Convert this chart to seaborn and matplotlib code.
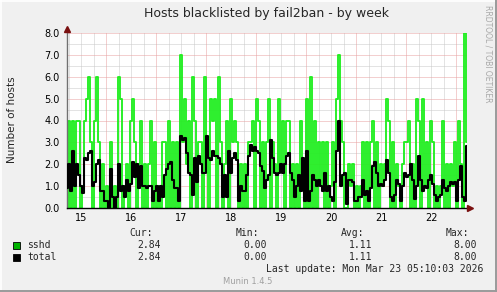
import numpy as np
import pandas as pd
import matplotlib
matplotlib.use("Agg")
import matplotlib.pyplot as plt
import seaborn as sns
from matplotlib.ticker import FormatStrFormatter
from matplotlib.lines import Line2D

# ---------------- data ----------------
title = "Hosts blacklisted by fail2ban - by week"
ylabel = "Number of hosts"
day_labels = ["15", "16", "17", "18", "19", "20", "21", "22"]
day_label_pos = [15.5, 16.5, 17.5, 18.5, 19.5, 20.5, 21.5, 22.5]
x_start = 15.215   # Mar 15 05:10
x_step = 0.04      # days per sample

sshd = [0, 4, 0, 4, 0, 4, 4, 0, 1, 4,
        5, 6, 3, 0, 4, 6, 3, 0, 2, 0,
        1, 0, 3, 0, 1, 0, 6, 5, 0, 1,
        2, 0, 4, 5, 3, 0, 2, 4, 0, 2,
        0, 2, 4, 0, 3, 0, 1, 0, 3, 3,
        0, 4, 0, 3, 0, 3, 0, 7, 3, 5,
        2, 4, 0, 6, 4, 0, 3, 3, 0, 6,
        3, 0, 5, 4, 5, 0, 6, 3, 0, 2,
        4, 0, 5, 3, 4, 3, 0, 2, 0, 2,
        0, 3, 3, 4, 0, 5, 4, 0, 3, 0,
        3, 5, 0, 3, 2, 0, 5, 2, 4, 0,
        4, 4, 0, 2, 0, 2, 0, 4, 2, 0,
        5, 0, 6, 0, 4, 0, 3, 1, 3, 0,
        3, 0, 1, 3, 0, 5, 7, 4, 3, 0,
        0, 2, 1, 2, 0, 1, 0, 1, 3, 0,
        3, 0, 3, 4, 0, 3, 0, 2, 1, 2,
        5, 4, 0, 3, 0, 2, 1, 0, 2, 3,
        3, 4, 0, 2, 0, 5, 4, 0, 5, 1,
        3, 0, 4, 3, 0, 1, 0, 1, 4, 0,
        2, 0, 2, 1, 3, 0, 4, 2, 0, 8,
        3]

total = [0.9, 2.0, 0.8, 2.6, 1.0, 2.0, 1.5, 1.0, 0.7, 2.3,
         2.2, 2.5, 2.6, 1.0, 1.2, 2.0, 2.2, 0.8, 0.8, 0.3,
         0.3, 0.0, 1.8, 0.5, 0.0, 0.5, 2.0, 0.8, 1.0, 0.5,
         1.3, 0.8, 1.1, 2.1, 1.4, 2.0, 0.9, 1.9, 1.0, 1.0,
         0.9, 1.0, 1.0, 0.3, 0.8, 1.0, 0.3, 1.0, 0.5, 1.5,
         1.8, 2.0, 2.1, 1.3, 0.9, 0.9, 0.3, 3.3, 3.1, 3.2,
         2.5, 1.6, 1.5, 0.6, 2.3, 1.2, 2.4, 2.0, 1.6, 1.6,
         3.3, 2.3, 2.2, 2.6, 2.4, 2.4, 2.3, 2.0, 0.5, 1.5,
         0.5, 2.6, 1.6, 2.3, 2.5, 2.2, 0.3, 1.0, 0.8, 0.8,
         1.5, 2.4, 2.9, 2.6, 2.8, 2.6, 2.5, 1.9, 1.7, 0.9,
         1.3, 1.5, 3.1, 2.3, 1.6, 1.5, 1.6, 2.0, 1.6, 2.0,
         2.4, 2.5, 1.6, 1.3, 0.5, 1.0, 1.5, 0.8, 2.3, 0.3,
         2.6, 0.3, 0.8, 1.5, 1.3, 1.0, 1.3, 1.0, 0.8, 1.6,
         0.8, 1.0, 0.5, 0.3, 1.2, 2.6, 4.0, 1.0, 1.5, 1.6,
         0.2, 1.3, 1.3, 1.2, 0.3, 0.3, 0.5, 0.5, 1.3, 0.6,
         0.8, 0.3, 0.9, 1.9, 2.1, 1.6, 1.0, 1.1, 1.0, 1.3,
         2.2, 1.6, 0.5, 0.3, 0.6, 1.3, 1.1, 0.3, 1.0, 1.6,
         1.4, 1.5, 2.0, 1.3, 0.4, 1.0, 2.4, 1.3, 0.8, 1.0,
         0.9, 1.3, 1.5, 1.1, 0.6, 0.3, 0.5, 0.6, 1.3, 0.9,
         0.8, 1.0, 1.2, 1.1, 1.2, 0.3, 1.3, 1.9, 0.5, 0.3,
         2.84]

legend_names = ["sshd", "total"]
legend_cur = ["2.84", "2.84"]
legend_min = ["0.00", "0.00"]
legend_avg = ["1.11", "1.11"]
legend_max = ["8.00", "8.00"]
last_update = "Last update: Mon Mar 23 05:10:03 2026"
version = "Munin 1.4.5"
watermark = "RRDTOOL / TOBI OETIKER"

# ---------------- figure ----------------
W, H = 497, 292
sns.set_theme(style="white")
plt.rcParams["font.family"] = ["DejaVu Sans"]

BG = "#F0F0F0"
fig = plt.figure(figsize=(W / 100, H / 100), dpi=100, facecolor=BG)
L, R, T, B = 67, 467, 33, 208
ax = fig.add_axes([L / W, 1 - B / H, (R - L) / W, (B - T) / H])
ax.set_facecolor("white")

df = pd.DataFrame({
    "t": x_start + x_step * np.arange(len(sshd)),
    "sshd": sshd,
    "total": total,
})

xmin, xmax = x_start, x_start + x_step * (len(sshd) - 1)
ax.set_xlim(xmin, xmax)
ax.set_ylim(0, 8)

# grid
dots = (0, (1, 1))
lw_grid = 0.72
for q in np.arange(np.ceil(xmin * 4) / 4, xmax, 0.25):
    if abs(q - round(q)) < 1e-6:
        continue
    ax.axvline(q, color="#C8C8C8", lw=lw_grid, ls=dots, zorder=0.5)
for yv in np.arange(0.5, 8.01, 1.0):
    ax.axhline(yv, color="#C8C8C8", lw=lw_grid, ls=dots, zorder=0.5)
for d in range(16, 24):
    ax.axvline(d, color="#E8A0A0", lw=lw_grid, ls=dots, zorder=0.6)
for yv in range(1, 9):
    ax.axhline(yv, color="#E8A0A0", lw=lw_grid, ls=dots, zorder=0.6)

sns.lineplot(data=df, x="t", y="sshd", ax=ax, color="#22EE22", lw=1.35,
             drawstyle="steps-mid", estimator=None, legend=False, zorder=2)
sns.lineplot(data=df, x="t", y="total", ax=ax, color="#000000", lw=1.5,
             drawstyle="steps-mid", estimator=None, legend=False, zorder=3)

ax.set_xlabel("")
ax.set_ylabel("")

# axes styling
for s in ["top", "right"]:
    ax.spines[s].set_visible(False)
ax.spines["left"].set_color("#707070")
ax.spines["left"].set_linewidth(1.0)
ax.spines["bottom"].set_color("#000000")
ax.spines["bottom"].set_linewidth(1.0)

ax.set_yticks(range(0, 9))
ax.yaxis.set_major_formatter(FormatStrFormatter("%.1f"))
ax.tick_params(axis="y", length=0, pad=5, labelsize=7, labelcolor="black")

ax.set_xticks(range(16, 24))
ax.set_xticklabels([])
ax.tick_params(axis="x", which="major", length=2.5, width=0.8, color="#D05050",
               direction="out")
ax.set_xticks(day_label_pos, minor=True)
ax.set_xticklabels(day_labels, minor=True)
ax.tick_params(axis="x", which="minor", length=0, pad=3.5, labelsize=7,
               labelcolor="black")

# arrows
ax.plot([0], [1.025], marker="^", ms=4, color="#7A1010", transform=ax.transAxes,
        clip_on=False, zorder=5)
ax.plot([1.008], [0], marker=">", ms=4, color="#7A1010", transform=ax.transAxes,
        clip_on=False, zorder=5)

# titles
fig.text(267 / W, 1 - 14 / H, title, ha="center", va="center", fontsize=9)
fig.text(12 / W, 1 - 120 / H, ylabel, ha="center", va="center", rotation=90,
         fontsize=7.5)
fig.text(488 / W, 1 - 5 / H, watermark, ha="center", va="top", rotation=270,
         fontsize=5.5, color="#A8A8A8")

# legend block
mono = "DejaVu Sans Mono"
fs = 7
hy = 1 - 233 / H
fig.text(153 / W, hy, "Cur:", ha="right", va="center", family=mono, fontsize=fs)
fig.text(259 / W, hy, "Min:", ha="right", va="center", family=mono, fontsize=fs)
fig.text(364 / W, hy, "Avg:", ha="right", va="center", family=mono, fontsize=fs)
fig.text(469 / W, hy, "Max:", ha="right", va="center", family=mono, fontsize=fs)

box_colors = ["#00B400", "#000000"]
for k, (nm, c, mn, av, mx) in enumerate(zip(legend_names, legend_cur, legend_min,
                                             legend_avg, legend_max)):
    yc = 245 + 12 * k
    yy = 1 - yc / H
    fig.patches.append(plt.Rectangle((13 / W, 1 - (yc + 3.5) / H), 7 / W, 7 / H,
                                     transform=fig.transFigure, facecolor=box_colors[k],
                                     edgecolor="black", lw=0.6))
    fig.text(27 / W, yy, nm, ha="left", va="center", family=mono, fontsize=fs)
    fig.text(161 / W, yy, c, ha="right", va="center", family=mono, fontsize=fs)
    fig.text(267 / W, yy, mn, ha="right", va="center", family=mono, fontsize=fs)
    fig.text(372 / W, yy, av, ha="right", va="center", family=mono, fontsize=fs)
    fig.text(477 / W, yy, mx, ha="right", va="center", family=mono, fontsize=fs)

fig.text(483 / W, 1 - 269 / H, last_update, ha="right", va="center", family=mono,
         fontsize=fs)
fig.text(248 / W, 1 - 281 / H, version, ha="center", va="center", fontsize=6,
         color="#A0A0A0")

# frame
fig.add_artist(Line2D([0, 1], [1 - 0.5 / H, 1 - 0.5 / H], transform=fig.transFigure,
                      color="#FFFFFF", lw=1.2))
fig.add_artist(Line2D([0.5 / W, 0.5 / W], [0, 1], transform=fig.transFigure,
                      color="#FFFFFF", lw=1.2))
fig.add_artist(Line2D([0, 1], [1.5 / H, 1.5 / H], transform=fig.transFigure,
                      color="#9A9A9A", lw=1.4))
fig.add_artist(Line2D([1 - 1.5 / W, 1 - 1.5 / W], [0, 1], transform=fig.transFigure,
                      color="#9A9A9A", lw=1.4))

fig.savefig("out.png", dpi=100, facecolor=BG)
